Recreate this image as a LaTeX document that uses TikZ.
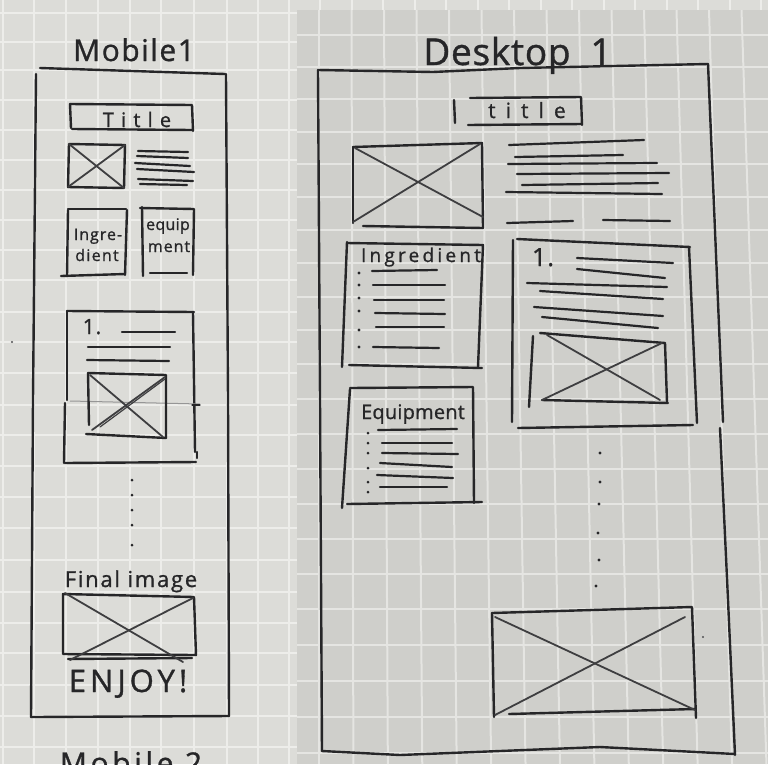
\documentclass[tikz,border=0pt]{standalone}
\usepackage{fontspec}
\setmainfont{Open Sans}
\definecolor{paperL}{RGB}{220,220,216}
\definecolor{gridL}{RGB}{237,237,234}
\definecolor{paperR}{RGB}{207,207,203}
\definecolor{gridR}{RGB}{229,229,226}
\definecolor{inkc}{RGB}{38,38,40}
\definecolor{crossc}{RGB}{62,62,64}
\definecolor{faint}{RGB}{150,150,150}
\begin{document}
\begin{tikzpicture}[x=1pt,y=-1pt,
  ink/.style={draw=inkc, line width=2.4pt, line cap=round, line join=round},
  cross/.style={draw=crossc, line width=1.8pt, line cap=round},
  tl/.style={draw=inkc, line width=2.2pt, line cap=round},
  hw/.style 2 args={font={\fontsize{#1}{#1}\selectfont\addfontfeatures{LetterSpace=#2,FakeBold=1}},
    inner sep=0pt, text=inkc, anchor=base},
  bullet/.style={circle, fill=inkc, inner sep=0pt, minimum size=3.4pt},
  speck/.style={circle, fill=inkc!80, inner sep=0pt, minimum size=2.4pt},
  gl/.style={draw=gridL, line width=2pt},
  gr/.style={draw=gridR, line width=2pt}]
\useasboundingbox (0,0) rectangle (768,764);

% ---------- grid paper, left sheet ----------
\fill[paperL] (0,0) rectangle (768,764);
\foreach \y in {13,42,70,100,130,160,190,220,250,280,312,342,373,405,435,466,497,528,560,592,623,653,685,716,747}
  \draw[gl] (0,\y) -- (297,\y);
\foreach \x in {3,34,66,98,130,161,194,227,258,289}
  \draw[gl] (\x,0) -- (\x,764);
\foreach \k in {0,...,14}
  \draw[gl] ({320+31.5*\k},0) -- ({320+31.5*\k},10);

% ---------- grid paper, right sheet ----------
\fill[paperR] (297,10) rectangle (768,764);
\begin{scope}
  \clip (297,10) rectangle (768,764);
  \foreach \y in {35,67,99,132,164,197,230,263,297,330,364,399,434,469,504,539,574,609,645,681,717,753}
    \draw[gr] (297,\y) -- (768,\y);
  \foreach \k in {-1,...,14}
    \draw[gr] ({319+32.5*\k},10) -- ({319+34.42*\k},764);
\end{scope}

% ================= Mobile layout =================
\node[hw={30}{5}] (mlabel) at (134,61) {Mobile1};

% outer frame
\draw[ink] (40,68) -- (225,74);
\draw[ink] (36,74) -- (33,400) -- (31,717);
\draw[ink] (226,74) -- (228,400) -- (229,716);
\draw[ink] (31,717) -- (229,716);

% title bar
\draw[ink] (70,104) -- (192,105) -- (193,131);
\draw[ink] (70,104) -- (71,128);
\draw[ink] (72,129) -- (192,130);
\node[hw={20}{36}] (mtitle) at (137,127) {Title};

% hero image with caption lines
\coordinate (mi1) at (69,144);
\coordinate (mi2) at (125,145);
\coordinate (mi3) at (124,188);
\coordinate (mi4) at (68,187);
\draw[ink] (mi1) -- (mi2) -- (mi3) -- (mi4) -- cycle;
\draw[cross] (mi1) -- (mi3);
\draw[cross] (mi4) -- (mi2);
\draw[tl] (138,151) -- (188,152);
\draw[tl] (137,156) -- (188,158);
\draw[tl] (135,163) -- (190,166);
\draw[tl] (137,169) -- (194,172);
\draw[tl] (138,179) -- (193,181);
\draw[tl] (140,184) -- (187,185);

% ingredient / equipment tiles
\draw[ink] (68,209) -- (126,209);
\draw[ink] (68,210) -- (67,276);
\draw[ink] (127,210) -- (125,275);
\draw[ink] (61,276) -- (125,274);
\node[hw={16}{6}] (mingr1) at (98,240) {Ingre-};
\node[hw={16}{8}] (mingr2) at (97,261) {dient};
\draw[ink] (140,208) -- (194,209) -- (193,275);
\draw[ink] (142,207) -- (143,276);
\draw[ink] (150,273) -- (187,273);
\node[hw={16}{2}] (meq1) at (168,230) {equip};
\node[hw={16}{6}] (meq2) at (169,252) {ment};

% first step card
\draw[ink] (67,311) -- (194,312);
\draw[ink] (67,311) -- (67,400);
\draw[ink] (65,403) -- (64,463);
\draw[ink] (193,312) -- (195,452);
\draw[ink] (197,452) -- (197,458);
\draw[ink] (65,463) -- (196,462);
\draw[faint, line width=1pt] (70,401) -- (200,404);
\draw[ink, line width=1.3pt] (192,405) -- (200,405);
\node[hw={21}{4}] (mstep) at (92,334) {1.};
\draw[tl] (122,332) -- (175,332);
\draw[tl] (88,347) -- (170,347);
\draw[tl] (87,360) -- (169,361);
\coordinate (ms1) at (88,373);
\coordinate (ms2) at (166,375);
\coordinate (ms3) at (166,438);
\coordinate (ms4) at (86,434);
\draw[ink] (ms1) -- (ms2) -- (ms3);
\draw[ink] (ms1) -- (89,425);
\draw[ink] (ms4) -- (ms3);
\draw[cross] (90,375) -- (163,437);
\draw[cross] (92,430) -- (165,377);
\draw[cross, line width=1.2pt] (100,427) -- (165,379);

% ellipsis dots
\foreach \y/\n in {480/a,495/b,510/c,525/d,545/e}
  \node[bullet, minimum size=3pt] (mdot\n) at (132,\y) {};

% final image
\node[hw={22}{8}] (mfinal) at (131,587) {Final image};
\coordinate (mf1) at (63,594);
\coordinate (mf2) at (194,597);
\coordinate (mf3) at (196,655);
\coordinate (mf4) at (63,654);
\draw[ink] (mf1) -- (mf2) -- (mf3) -- (mf4) -- cycle;
\draw[ink] (68,659) -- (192,658);
\draw[cross] (65,593) -- (183,662);
\draw[cross] (70,660) -- (193,598);
\node[hw={31}{13}] (menjoy) at (128,692) {ENJOY!};

% next sheet heading, cut by the page edge
\begin{scope}
  \clip (0,0) rectangle (768,764);
  \node[hw={30}{12}] (mlabel2) at (131,774) {Mobile 2};
\end{scope}
\node[speck] (speck1) at (12,342) {};

% ================= Desktop layout =================
\node[hw={37}{2}] (dlabel) at (497,65) {Desktop};
\node[hw={37}{0}] (dnum) at (601,65) {1};

% outer frame
\draw[ink] (318,70) -- (433,72) -- (520,68) -- (708,64);
\draw[ink] (318,70) -- (320,400) -- (322,751);
\draw[ink] (708,64) -- (715,230) -- (723,422);
\draw[ink] (720,428) -- (728,600) -- (735,755);
\draw[ink] (322,751) -- (400,755) -- (600,747) -- (735,754);

% title bar
\draw[ink] (470,98) -- (581,97) -- (582,125);
\draw[ink] (468,125) -- (582,124);
\draw[ink] (454,100) -- (455,123);
\node[hw={21}{48}] (dtitle) at (527,118) {title};

% hero image and intro text
\coordinate (di1) at (353,147);
\coordinate (di2) at (482,143);
\coordinate (di3) at (483,228);
\coordinate (di4) at (353,223);
\draw[ink] (di1) -- (di2) -- (di3);
\draw[ink] (di1) -- (di4);
\draw[ink] (363,226) -- (di3);
\draw[cross] (355,148) -- (483,217);
\draw[cross] (353,222) -- (480,144);
\draw[tl] (509,145) -- (644,140);
\draw[tl] (515,157) -- (623,155);
\draw[tl] (508,164) -- (657,163);
\draw[tl] (517,174) -- (669,173);
\draw[tl] (522,185) -- (658,183);
\draw[tl] (506,192) -- (662,194);
\draw[tl] (507,223) -- (573,221);
\draw[tl] (603,220) -- (670,221);

% ingredient list
\draw[ink] (347,243) -- (483,245) -- (478,367);
\draw[ink] (347,242) -- (342,367);
\draw[ink] (349,365) -- (482,368);
\node[hw={19}{17}] (dingr) at (421,262) {Ingredient};
\foreach \y/\n in {273/a,285/b,298/c,311/d,330/e,347/f}
  \node[bullet] (dib\n) at (359,\y) {};
\draw[tl] (372,271) -- (437,270);
\draw[tl] (373,285) -- (445,285);
\draw[tl] (374,300) -- (444,300);
\draw[tl] (375,313) -- (445,314);
\draw[tl] (376,327) -- (444,327);
\draw[tl] (373,347) -- (439,348);

% equipment list
\draw[ink] (350,388) -- (473,387) -- (474,503);
\draw[ink] (350,389) -- (342,508);
\draw[ink] (347,504) -- (482,502);
\node[hw={20}{1}] (dequip) at (413,419) {Equipment};
\foreach \y/\n in {433/a,443/b,453/c,468/d,482/e,492/f}
  \node[bullet, minimum size=3pt] (deb\n) at (368,\y) {};
\draw[tl] (378,430) -- (457,429);
\draw[tl] (382,443) -- (452,443);
\draw[tl] (382,453) -- (458,454);
\draw[tl] (380,463) -- (452,467);
\draw[tl] (377,475) -- (453,478);
\draw[tl] (380,487) -- (447,487);

% first step card
\draw[ink] (517,239) -- (690,247);
\draw[ink] (513,240) -- (512,422);
\draw[ink] (689,247) -- (697,423);
\draw[ink] (518,428) -- (693,425);
\node[hw={25}{4}] (dstep) at (543,266) {1.};
\draw[tl] (577,258) -- (673,263);
\draw[tl] (577,269) -- (665,278);
\draw[tl] (527,283) -- (667,287);
\draw[tl] (540,291) -- (663,299);
\draw[tl] (534,307) -- (663,316);
\draw[tl] (542,317) -- (658,328);
\draw[ink] (540,333) -- (665,343) -- (667,402);
\draw[ink] (533,336) -- (529,407);
\draw[ink] (542,400) -- (668,403);
\draw[cross] (547,335) -- (660,400);
\draw[cross] (542,400) -- (662,343);

% ellipsis dots
\foreach \x/\y/\n in {600/453/a,600/482/b,599/504/c,598/533/d,599/560/e,596/586/f}
  \node[bullet] (ddot\n) at (\x,\y) {};

% final image
\draw[ink] (492,613) -- (692,607) -- (696,718);
\draw[ink] (492,613) -- (494,717);
\draw[ink] (509,714) -- (695,709);
\draw[cross] (495,617) -- (695,710);
\draw[cross] (495,715) -- (685,617);
\node[speck] (speck2) at (703,637) {};
\end{tikzpicture}
\end{document}
